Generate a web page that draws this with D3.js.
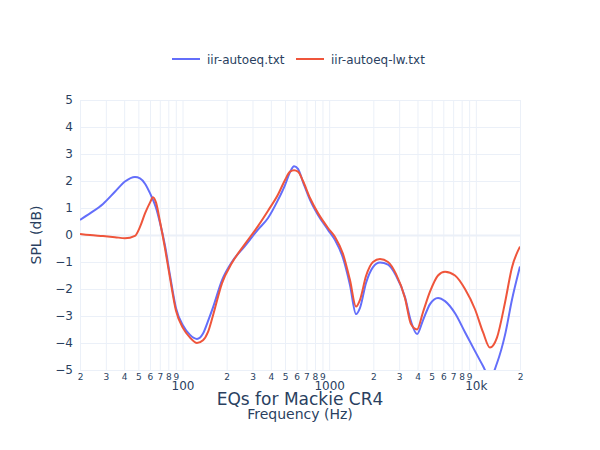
<!DOCTYPE html>
<html>
<head>
<meta charset="utf-8">
<script src="https://cdn.jsdelivr.net/npm/d3@7"></script>
<style>
  body { margin: 0; background: #fff; }
  svg { display: block; font-family: "DejaVu Sans", Verdana, sans-serif; }
</style>
</head>
<body>
<svg id="chart" width="600" height="450"></svg>
<script>
// ---- data ----
const freqs = [20, 23.4, 28.7, 34.6, 40.5, 47.4, 51.3, 55.5, 60, 62.9, 66, 70.2, 76, 82.2, 90.2, 100.8, 112.5, 125.5, 138, 149, 161, 186, 217, 267, 327, 383, 448, 500, 541, 576, 613, 663, 740, 839, 982, 1096, 1242, 1386, 1524, 1622, 1783, 1990, 2220, 2518, 2853, 3286, 3612, 3972, 4366, 4868, 5520, 6162, 7212, 8434, 9866, 11190, 12480, 13930, 15810, 17630, 20000];
const autoeq = [0.56, 0.8, 1.15, 1.6, 1.98, 2.15, 2.1, 1.9, 1.55, 1.3, 1.0, 0.45, -0.4, -1.5, -2.7, -3.35, -3.7, -3.85, -3.65, -3.2, -2.7, -1.67, -1.0, -0.4, 0.2, 0.63, 1.3, 1.85, 2.33, 2.55, 2.45, 1.96, 1.3, 0.74, 0.19, -0.19, -0.85, -1.85, -2.93, -2.7, -1.78, -1.19, -1.02, -1.1, -1.5, -2.3, -3.2, -3.67, -3.15, -2.56, -2.33, -2.45, -2.9, -3.6, -4.3, -4.85, -5.3, -4.75, -3.7, -2.4, -1.17];
const autoeqLw = [0.04, 0.0, -0.04, -0.08, -0.12, -0.03, 0.3, 0.8, 1.2, 1.4, 1.2, 0.5, -0.5, -1.6, -2.8, -3.45, -3.8, -4.0, -3.9, -3.6, -3.0, -1.78, -1.04, -0.33, 0.33, 0.9, 1.5, 2.04, 2.35, 2.4, 2.35, 2.0, 1.37, 0.81, 0.26, -0.07, -0.7, -1.67, -2.65, -2.4, -1.52, -1.0, -0.89, -1.0, -1.44, -2.33, -3.3, -3.5, -2.85, -2.1, -1.5, -1.36, -1.5, -2.0, -2.75, -3.6, -4.17, -3.8, -2.5, -1.2, -0.43];
const seriesNames = ["iir-autoeq.txt", "iir-autoeq-lw.txt"];
const seriesColors = ["#636efa", "#EF553B"];
const yTicks = [-5, -4, -3, -2, -1, 0, 1, 2, 3, 4, 5];
const decadeTicks = [100, 1000, 10000];
const decadeLabels = ["100", "1000", "10k"];
const titleText = "EQs for Mackie CR4";
const xTitle = "Frequency (Hz)";
const yTitle = "SPL (dB)";

// ---- layout ----
const svg = d3.select("#chart");
const L = 80, R = 520, T = 100, B = 370;
const x = d3.scaleLog().domain([20, 20000]).range([L, R]);
const y = d3.scaleLinear().domain([-5, 5]).range([B, T]);
const textColor = "#2a3f5f";
const gridColor = "#ebf0f8";
const FONT = '"DejaVu Sans", Verdana, sans-serif';

// minor tick values (2..9 per decade + decades)
const allTicks = [];
[10, 100, 1000, 10000].forEach(d => {
  for (let m = 1; m <= 9; m++) {
    const v = m * d;
    if (v >= 20 && v <= 20000) allTicks.push(v);
  }
});

// vertical grid
svg.append("g")
  .attr("transform", `translate(0,${B})`)
  .call(d3.axisBottom(x).tickValues(allTicks).tickSize(-(B - T)).tickFormat(""))
  .call(g => g.select(".domain").remove())
  .call(g => g.selectAll("line").attr("stroke", gridColor).attr("stroke-width", 1));

// horizontal grid
svg.append("g")
  .attr("transform", `translate(${L},0)`)
  .call(d3.axisLeft(y).tickValues(yTicks).tickSize(-(R - L)).tickFormat(""))
  .call(g => g.select(".domain").remove())
  .call(g => g.selectAll("line").attr("stroke", gridColor).attr("stroke-width", d => d === 0 ? 2 : 1));

// y tick labels
svg.append("g")
  .attr("transform", `translate(${L},0)`)
  .call(d3.axisLeft(y).tickValues(yTicks).tickSize(0).tickPadding(7)
    .tickFormat(d => d < 0 ? "\u2212" + Math.abs(d) : String(d)))
  .call(g => g.select(".domain").remove())
  .call(g => g.selectAll("text").attr("fill", textColor).style("font-size", "12px")
    .style("font-family", FONT));

// x minor digit labels
svg.append("g")
  .attr("transform", `translate(0,${B})`)
  .call(d3.axisBottom(x).tickValues(allTicks.filter(v => !decadeTicks.includes(v))).tickSize(0).tickPadding(4)
    .tickFormat(d => String(Math.round(d / Math.pow(10, Math.floor(Math.log10(d) + 1e-9))))))
  .call(g => g.select(".domain").remove())
  .call(g => g.selectAll("text").attr("fill", textColor).style("font-size", "9px")
    .style("font-family", FONT));

// x decade labels
svg.append("g")
  .attr("transform", `translate(0,${B})`)
  .call(d3.axisBottom(x).tickValues(decadeTicks).tickSize(0).tickPadding(11)
    .tickFormat((d, i) => decadeLabels[i]))
  .call(g => g.select(".domain").remove())
  .call(g => g.selectAll("text").attr("fill", textColor).style("font-size", "12px")
    .style("font-family", FONT));

// clip
svg.append("clipPath").attr("id", "plotclip")
  .append("rect").attr("x", L).attr("y", T).attr("width", R - L).attr("height", B - T);

const line = d3.line().x(d => x(d[0])).y(d => y(d[1])).curve(d3.curveMonotoneX);
const series = [autoeq, autoeqLw];
const plot = svg.append("g").attr("clip-path", "url(#plotclip)");
series.forEach((vals, i) => {
  plot.append("path")
    .datum(freqs.map((f, j) => [f, vals[j]]))
    .attr("d", line)
    .attr("fill", "none")
    .attr("stroke", seriesColors[i])
    .attr("stroke-width", 2)
    .attr("stroke-linejoin", "round");
});

// legend
const legendX = [172, 296];
seriesNames.forEach((name, i) => {
  const g = svg.append("g").attr("transform", `translate(${legendX[i]},59)`);
  g.append("line").attr("x1", 0).attr("x2", 28).attr("y1", 0).attr("y2", 0)
    .attr("stroke", seriesColors[i]).attr("stroke-width", 2);
  g.append("text").attr("x", 35).attr("y", 4.5).attr("fill", textColor)
    .style("font-size", "12px").text(name);
});

// titles
svg.append("text").attr("x", 300).attr("y", 405).attr("text-anchor", "middle")
  .attr("fill", textColor).style("font-size", "17px").text(titleText);
svg.append("text").attr("x", 300).attr("y", 419).attr("text-anchor", "middle")
  .attr("fill", textColor).style("font-size", "14px").text(xTitle);
svg.append("text").attr("transform", `translate(41,235) rotate(-90)`).attr("text-anchor", "middle")
  .attr("fill", textColor).style("font-size", "14px").text(yTitle);
</script>
</body>
</html>
